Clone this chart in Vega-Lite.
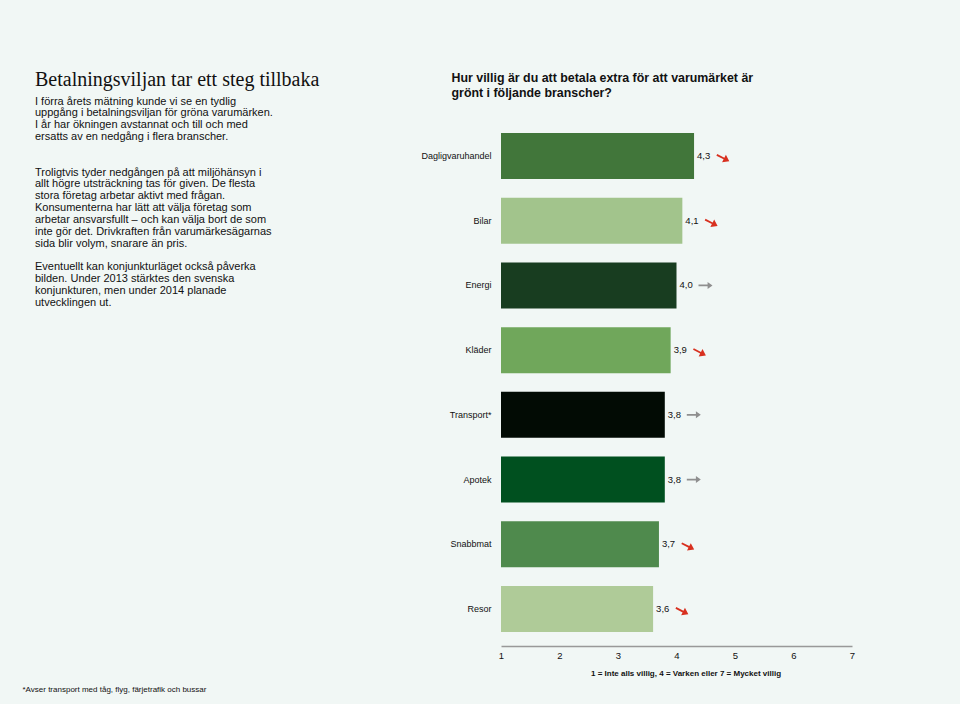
{
  "$schema": "https://vega.github.io/schema/vega-lite/v6.json",
  "background": "#f1f7f5",
  "autosize": {"type": "none"},
  "padding": {"left": 501, "top": 119, "right": 108, "bottom": 58},
  "width": 351,
  "height": 527,
  "config": {
    "view": {"stroke": null},
    "font": "Liberation Sans",
    "locale": {"number": {"decimal": ",", "thousands": " ", "grouping": [3], "currency": ["", " kr"]}}
  },
  "title": {
    "text": "Betalningsviljan tar ett steg tillbaka",
    "subtitle": [
      "I förra årets mätning kunde vi se en tydlig",
      "uppgång i betalningsviljan för gröna varumärken.",
      "I år har ökningen avstannat och till och med",
      "ersatts av en nedgång i flera branscher.",
      "\u2800",
      "\u2800",
      "Troligtvis tyder nedgången på att miljöhänsyn i",
      "allt högre utsträckning tas för given. De flesta",
      "stora företag arbetar aktivt med frågan.",
      "Konsumenterna har lätt att välja företag som",
      "arbetar ansvarsfullt – och kan välja bort de som",
      "inte gör det. Drivkraften från varumärkesägarnas",
      "sida blir volym, snarare än pris.",
      "\u2800",
      "Eventuellt kan konjunkturläget också påverka",
      "bilden. Under 2013 stärktes den svenska",
      "konjunkturen, men under 2014 planade",
      "utvecklingen ut."
    ],
    "anchor": "start",
    "frame": "group",
    "dx": -466,
    "offset": -237,
    "font": "Liberation Serif",
    "fontSize": 20,
    "fontWeight": "normal",
    "color": "#111111",
    "subtitleFont": "Liberation Sans",
    "subtitleFontSize": 11,
    "subtitleColor": "#111111",
    "subtitleLineHeight": 11.85,
    "subtitlePadding": 6
  },
  "data": {
    "values": [
      {"bransch": "Dagligvaruhandel", "medel": 4.3, "trend": "ned"},
      {"bransch": "Bilar", "medel": 4.1, "trend": "ned"},
      {"bransch": "Energi", "medel": 4.0, "trend": "oförändrad"},
      {"bransch": "Kläder", "medel": 3.9, "trend": "ned"},
      {"bransch": "Transport*", "medel": 3.8, "trend": "oförändrad"},
      {"bransch": "Apotek", "medel": 3.8, "trend": "oförändrad"},
      {"bransch": "Snabbmat", "medel": 3.7, "trend": "ned"},
      {"bransch": "Resor", "medel": 3.6, "trend": "ned"}
    ]
  },
  "layer": [
    {
      "encoding": {
        "y": {
          "field": "bransch",
          "type": "nominal",
          "sort": null,
          "scale": {"paddingInner": 0.289, "paddingOuter": 0.216},
          "axis": {
            "domain": false,
            "ticks": false,
            "labelFontSize": 9,
            "labelColor": "#111111",
            "labelPadding": 10,
            "title": ["Hur villig är du att betala extra för att varumärket är", "grönt i följande branscher?"],
            "titleAngle": 0,
            "titleAlign": "left",
            "titleBaseline": "alphabetic",
            "titleX": -50,
            "titleY": -38,
            "titleFontSize": 12.4,
            "titleFontWeight": "bold",
            "titleLineHeight": 15,
            "titleColor": "#111111"
          }
        },
        "x": {
          "field": "medel",
          "type": "quantitative",
          "scale": {"domain": [1, 7], "nice": false, "zero": false},
          "axis": {
            "values": [1, 2, 3, 4, 5, 6, 7],
            "format": "d",
            "grid": false,
            "ticks": false,
            "domainColor": "#999999",
            "domainWidth": 1.5,
            "labelFontSize": 9.5,
            "labelColor": "#111111",
            "labelPadding": 4,
            "labelFlush": false,
            "labelOverlap": false,
            "title": "1 = Inte alls villig, 4 = Varken eller 7 = Mycket villig",
            "titleFontSize": 8,
            "titleFontWeight": "bold",
            "titleColor": "#111111",
            "titlePadding": 10,
            "titleX": 184.5
          }
        }
      },
      "layer": [
        {
          "mark": {"type": "bar"},
          "encoding": {
            "x2": {"datum": 1},
            "color": {
              "field": "bransch",
              "type": "nominal",
              "scale": {
                "domain": ["Dagligvaruhandel", "Bilar", "Energi", "Kläder", "Transport*", "Apotek", "Snabbmat", "Resor"],
                "range": ["#41763a", "#a2c48c", "#183d20", "#70a75b", "#020b04", "#00501f", "#4f8a4d", "#afcb98"]
              },
              "legend": null
            }
          }
        },
        {
          "mark": {"type": "text", "align": "left", "baseline": "middle", "dx": 3, "fontSize": 9.5, "color": "#111111"},
          "encoding": {
            "text": {"field": "medel", "type": "quantitative", "format": ".1f"}
          }
        },
        {
          "mark": {"type": "point", "filled": true, "size": 196, "xOffset": 29, "opacity": 1, "strokeWidth": 0},
          "encoding": {
            "shape": {
              "field": "trend",
              "type": "nominal",
              "scale": {
                "domain": ["ned", "oförändrad"],
                "range": [
                  "M-0.832,-0.27L0.193,0.252L0.406,-0.167L0.891,0.754L-0.138,0.903L0.075,0.484L-0.95,-0.038Z",
                  "M-1,-0.12L0.3,-0.12L0.3,-0.5L1,0L0.3,0.5L0.3,0.12L-1,0.12Z"
                ]
              },
              "legend": null
            },
            "fill": {
              "field": "trend",
              "type": "nominal",
              "scale": {"domain": ["ned", "oförändrad"], "range": ["#d8301f", "#8f8f8f"]},
              "legend": null
            }
          }
        }
      ],
      "resolve": {"scale": {"color": "independent", "fill": "independent"}}
    },
    {
      "data": {"values": [{"v": 0}]},
      "mark": {"type": "rule", "opacity": 0},
      "encoding": {
        "y": {
          "field": "v",
          "type": "quantitative",
          "axis": {
            "orient": "right",
            "labels": false,
            "ticks": false,
            "domain": false,
            "grid": false,
            "title": "*Avser transport med tåg, flyg, färjetrafik och bussar",
            "titleAngle": 0,
            "titleAlign": "left",
            "titleBaseline": "middle",
            "titleX": -830,
            "titleY": 570,
            "titleFontSize": 8,
            "titleFontWeight": "normal",
            "titleColor": "#111111"
          }
        }
      }
    }
  ],
  "resolve": {"scale": {"y": "independent"}, "axis": {"y": "independent"}}
}
